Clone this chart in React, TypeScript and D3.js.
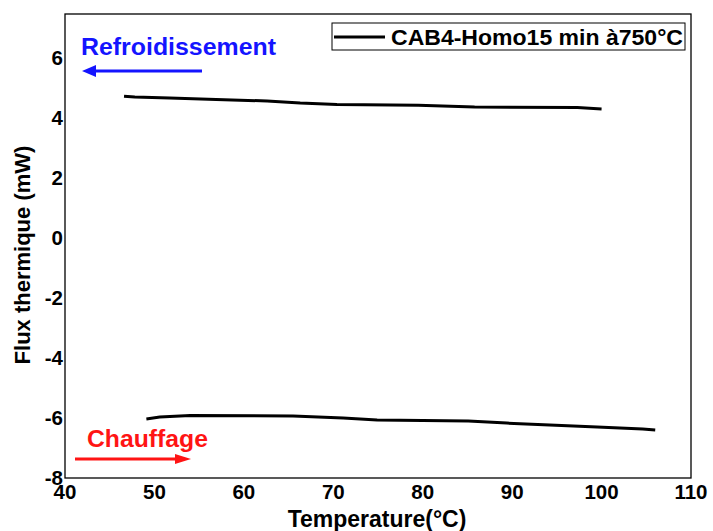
import React from "react";
import * as d3 from "d3";

const coolT = [46.6, 47.8, 51.7, 56.9, 62.6, 66.3, 70.4, 79.5, 85.8, 97.3, 100.0];
const coolF = [4.73, 4.70, 4.67, 4.62, 4.57, 4.50, 4.45, 4.43, 4.37, 4.35, 4.30];
const heatT = [49.1, 50.6, 54.0, 65.5, 71.1, 74.9, 85.1, 89.4, 94.2, 99.5, 104.6, 106.0];
const heatF = [-6.03, -5.97, -5.92, -5.93, -6.0, -6.07, -6.1, -6.17, -6.23, -6.3, -6.37, -6.4];
const xTicks = [40, 50, 60, 70, 80, 90, 100, 110];
const yTicks = [-8, -6, -4, -2, 0, 2, 4, 6];
const legendLabel = "CAB4-Homo15 min à750°C";

const W = 713, H = 531;
const L = 65, R = 691, T = 14, B = 478;

export default function App() {
  const x = d3.scaleLinear().domain([40, 110]).range([L, R]);
  const y = d3.scaleLinear().domain([-8, 7.47]).range([B, T]);
  const line = d3.line<[number, number]>().x(d => x(d[0])).y(d => y(d[1]));
  const cool = coolT.map((t, i) => [t, coolF[i]] as [number, number]);
  const heat = heatT.map((t, i) => [t, heatF[i]] as [number, number]);
  const font = "'Liberation Sans', Arial, sans-serif";
  return (
    <svg width={W} height={H} style={{ position: "absolute", left: 0, top: 0 }} fontFamily={font}>
      <rect x={0} y={0} width={W} height={H} fill="#fff" />
      <rect x={L} y={T} width={R - L} height={B - T} fill="none" stroke="#000" strokeWidth={1.3} />
      <path d={line(cool) || ""} fill="none" stroke="#000" strokeWidth={3} />
      <path d={line(heat) || ""} fill="none" stroke="#000" strokeWidth={3} />
      {xTicks.map(t => (
        <text key={"x" + t} x={x(t)} y={499} textAnchor="middle" fontSize={20.5} fontWeight="bold">{t}</text>
      ))}
      {yTicks.map(t => (
        <text key={"y" + t} x={63} y={y(t) + 7} textAnchor="end" fontSize={20.5} fontWeight="bold">{t}</text>
      ))}
      <text x={377} y={527} textAnchor="middle" fontSize={23} fontWeight="bold">Temperature(°C)</text>
      <text transform={`translate(30,${255}) rotate(-90)`} textAnchor="middle" fontSize={22} fontWeight="bold">Flux thermique (mW)</text>
      <rect x={332} y={23} width={353} height={27} fill="#fff" stroke="#000" strokeWidth={1} />
      <line x1={334} x2={385} y1={37} y2={37} stroke="#000" strokeWidth={3} />
      <text x={391} y={45} textLength={292} lengthAdjust="spacingAndGlyphs" fontSize={22.5} fontWeight="bold">{legendLabel}</text>
      <text x={81} y={55} textLength={195} lengthAdjust="spacingAndGlyphs" fontSize={23.5} fontWeight="bold" fill="#1414ff">Refroidissement</text>
      <line x1={202} x2={92} y1={71} y2={71} stroke="#1414ff" strokeWidth={3} />
      <path d="M82,71 L96,65 L96,77 Z" fill="#1414ff" />
      <text x={87} y={447} textLength={121} lengthAdjust="spacingAndGlyphs" fontSize={23.5} fontWeight="bold" fill="#ff1414">Chauffage</text>
      <line x1={75} x2={180} y1={459} y2={459} stroke="#ff1414" strokeWidth={3} />
      <path d="M191,459 L175,454 L175,464 Z" fill="#ff1414" />
    </svg>
  );
}
